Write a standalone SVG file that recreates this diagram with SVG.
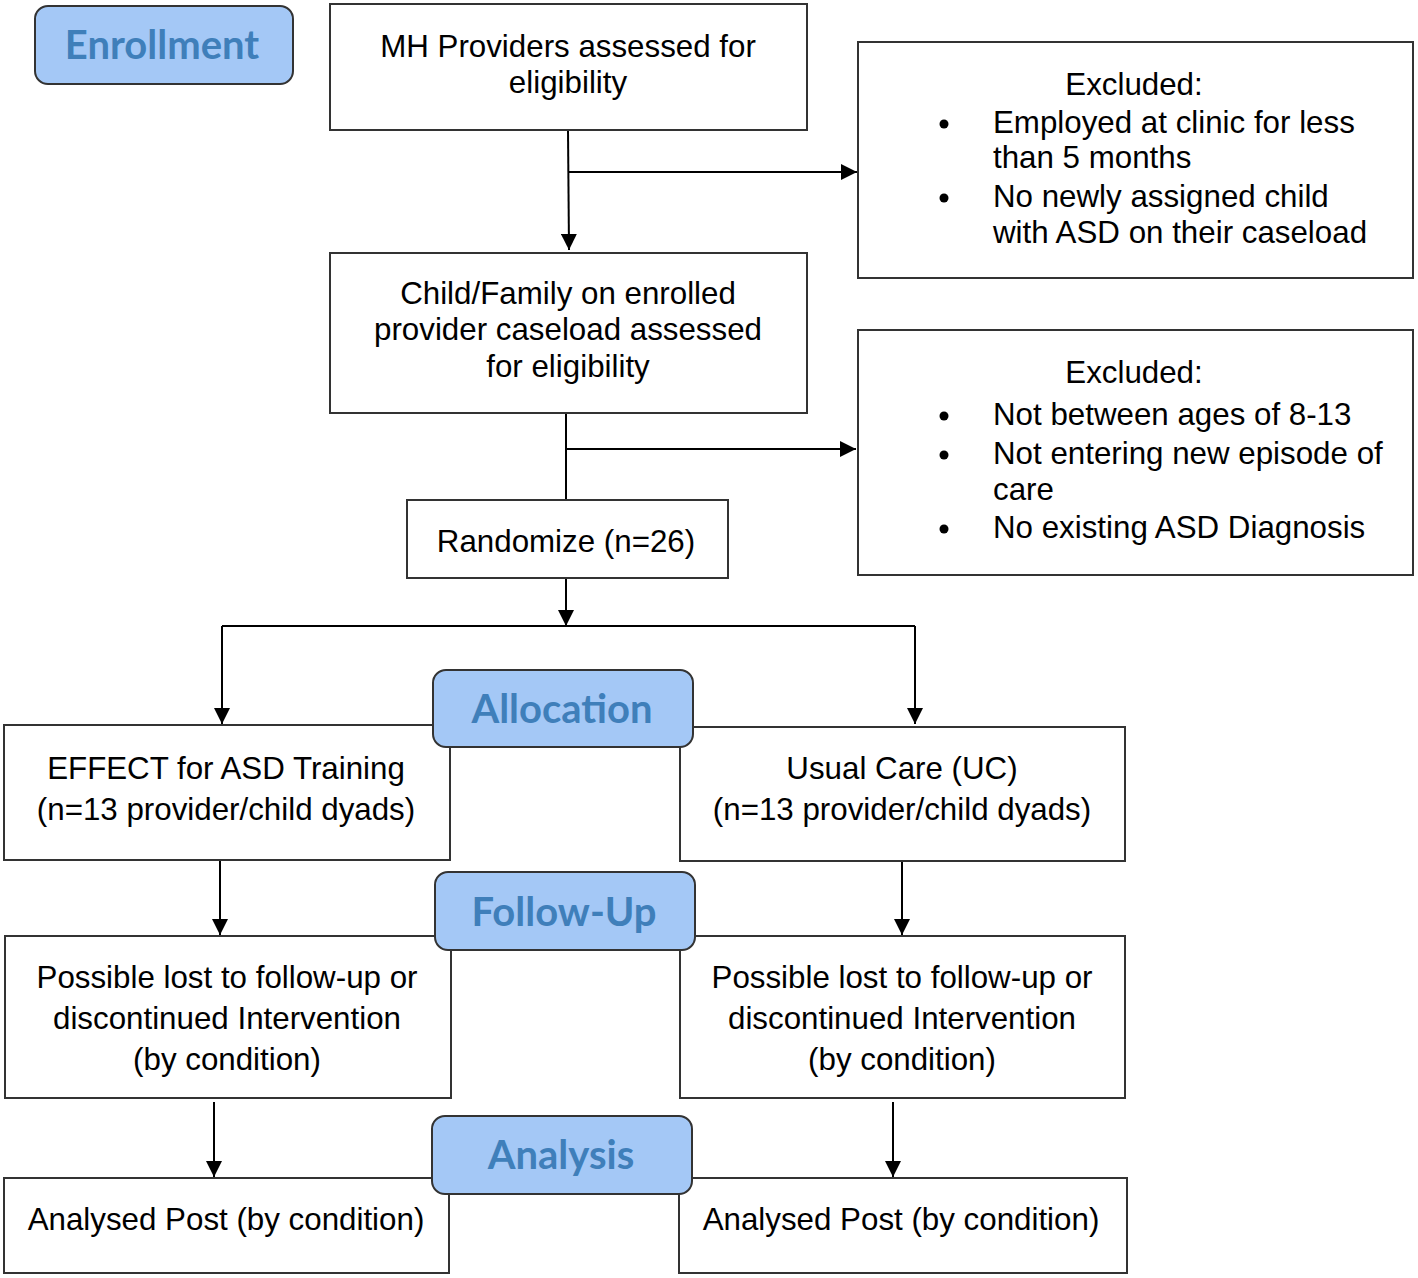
<svg xmlns="http://www.w3.org/2000/svg" width="1418" height="1278" viewBox="0 0 1418 1278">
<style>
.box{fill:#fff;stroke:#333;stroke-width:2}
.phase{fill:#a4c8f6;stroke:#333;stroke-width:2}
.t{font-family:"Liberation Sans",Arial,sans-serif;font-size:31.3px;fill:#000}
.c{text-anchor:middle}
.p{font-family:Lato,"Open Sans",sans-serif;font-weight:bold;font-size:40px;fill:#3f7fba;text-anchor:middle}
.ln{fill:none;stroke:#000;stroke-width:2}
</style>
<defs>
<marker id="a" viewBox="0 0 16 16" refX="16" refY="8" markerWidth="16" markerHeight="16" markerUnits="userSpaceOnUse" orient="auto">
<path d="M0,0 L16,8 L0,16 Z" fill="#000"/>
</marker>
</defs>
<g id="connectors">
<path class="ln" d="M568,130 L569,250" marker-end="url(#a)"/>
<path class="ln" d="M568,172 L857,172" marker-end="url(#a)"/>
<path class="ln" d="M566,413 L566,500"/>
<path class="ln" d="M566,449 L856,449" marker-end="url(#a)"/>
<path class="ln" d="M566,578 L566,626" marker-end="url(#a)"/>
<path class="ln" d="M222,626 L915,626"/>
<path class="ln" d="M222,626 L222,724" marker-end="url(#a)"/>
<path class="ln" d="M915,626 L915,724" marker-end="url(#a)"/>
<path class="ln" d="M220,860 L220,935" marker-end="url(#a)"/>
<path class="ln" d="M902,861 L902,935" marker-end="url(#a)"/>
<path class="ln" d="M214,1102 L214,1177" marker-end="url(#a)"/>
<path class="ln" d="M893,1102 L893,1177" marker-end="url(#a)"/>
</g>
<g id="enrollment">
<rect class="phase" x="35" y="6" width="258" height="78" rx="13"/>
<text class="p" x="162" y="59">Enrollment</text>
</g>
<g id="mh-providers">
<rect class="box" x="330" y="4" width="477" height="126"/>
<text class="t c" x="568" y="57">MH Providers assessed for</text>
<text class="t c" x="568" y="93">eligibility</text>
</g>
<g id="excluded-1">
<rect class="box" x="858" y="42" width="555" height="236"/>
<text class="t c" x="1134" y="95">Excluded:</text>
<circle cx="944" cy="124" r="4.5"/>
<text class="t" x="993" y="133">Employed at clinic for less</text>
<text class="t" x="993" y="168">than 5 months</text>
<circle cx="944" cy="198" r="4.5"/>
<text class="t" x="993" y="207">No newly assigned child</text>
<text class="t" x="993" y="243">with ASD on their caseload</text>
</g>
<g id="child-family">
<rect class="box" x="330" y="253" width="477" height="160"/>
<text class="t c" x="568" y="304">Child/Family on enrolled</text>
<text class="t c" x="568" y="340">provider caseload assessed</text>
<text class="t c" x="568" y="377">for eligibility</text>
</g>
<g id="excluded-2">
<rect class="box" x="858" y="330" width="555" height="245"/>
<text class="t c" x="1134" y="383">Excluded:</text>
<circle cx="944" cy="416" r="4.5"/>
<text class="t" x="993" y="425">Not between ages of 8-13</text>
<circle cx="944" cy="455" r="4.5"/>
<text class="t" x="993" y="464">Not entering new episode of</text>
<text class="t" x="993" y="500">care</text>
<circle cx="944" cy="529" r="4.5"/>
<text class="t" x="993" y="538">No existing ASD Diagnosis</text>
</g>
<g id="randomize">
<rect class="box" x="407" y="500" width="321" height="78"/>
<text class="t c" x="566" y="552">Randomize (n=26)</text>
</g>
<g id="effect">
<rect class="box" x="4" y="725" width="446" height="135"/>
<text class="t c" x="226" y="779">EFFECT for ASD Training</text>
<text class="t c" x="226" y="820">(n=13 provider/child dyads)</text>
</g>
<g id="usual-care">
<rect class="box" x="680" y="727" width="445" height="134"/>
<text class="t c" x="902" y="779">Usual Care (UC)</text>
<text class="t c" x="902" y="820">(n=13 provider/child dyads)</text>
</g>
<g id="allocation">
<rect class="phase" x="433" y="670" width="260" height="77" rx="13"/>
<text class="p" x="562" y="723">Allocation</text>
</g>
<g id="lost-left">
<rect class="box" x="5" y="936" width="446" height="162"/>
<text class="t c" x="227" y="988">Possible lost to follow-up or</text>
<text class="t c" x="227" y="1029">discontinued Intervention</text>
<text class="t c" x="227" y="1070">(by condition)</text>
</g>
<g id="lost-right">
<rect class="box" x="680" y="936" width="445" height="162"/>
<text class="t c" x="902" y="988">Possible lost to follow-up or</text>
<text class="t c" x="902" y="1029">discontinued Intervention</text>
<text class="t c" x="902" y="1070">(by condition)</text>
</g>
<g id="follow-up">
<rect class="phase" x="435" y="872" width="260" height="78" rx="13"/>
<text class="p" x="564" y="926">Follow-Up</text>
</g>
<g id="analysed-left">
<rect class="box" x="4" y="1178" width="445" height="95"/>
<text class="t c" x="226" y="1230">Analysed Post (by condition)</text>
</g>
<g id="analysed-right">
<rect class="box" x="679" y="1178" width="448" height="95"/>
<text class="t c" x="901" y="1230">Analysed Post (by condition)</text>
</g>
<g id="analysis">
<rect class="phase" x="432" y="1116" width="260" height="78" rx="13"/>
<text class="p" x="561" y="1169">Analysis</text>
</g>
</svg>
